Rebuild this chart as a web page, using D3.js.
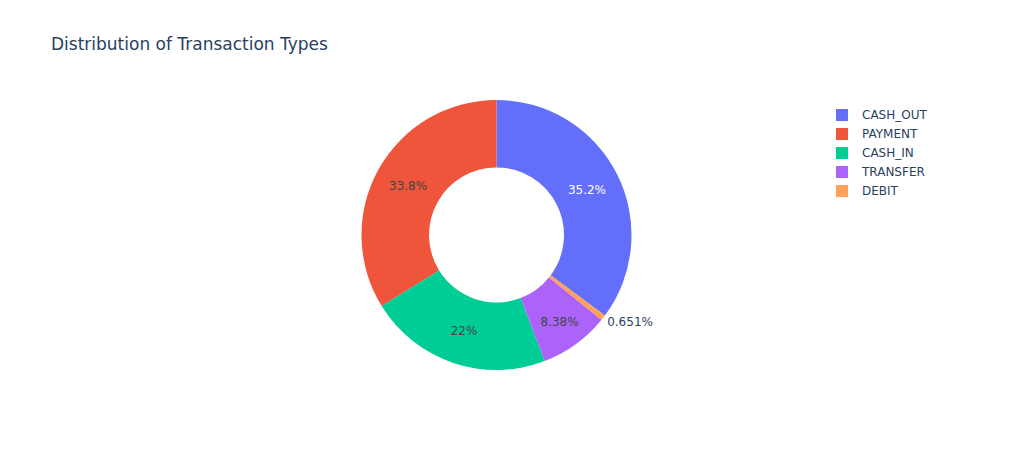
<!DOCTYPE html>
<html>
<head>
<meta charset="utf-8">
<script src="https://cdn.jsdelivr.net/npm/d3@7"></script>
<style>
  html, body { margin: 0; padding: 0; background: #fff; }
  svg { display: block; font-family: "DejaVu Sans", verdana, arial, sans-serif; }
</style>
</head>
<body>
<svg id="chart" width="1016" height="450"></svg>
<script>
// Data (PaySim transaction type counts)
const categories = ["CASH_OUT", "PAYMENT", "CASH_IN", "TRANSFER", "DEBIT"];
const counts = [2237500, 2151495, 1399284, 532909, 41432];
const colors = ["#636efa", "#EF553B", "#00cc96", "#ab63fa", "#FFA15A"];
const textColors = ["#ffffff", "#444444", "#444444", "#444444", "#444444"];
const titleText = "Distribution of Transaction Types";

const W = 1016, H = 450;
const cx = 496.5, cy = 235, outerR = 135, innerR = 67.5;
const svg = d3.select("#chart");

svg.append("text")
  .attr("x", 51).attr("y", 50)
  .attr("fill", "#2a3f5f")
  .attr("font-size", 17)
  .text(titleText);

const total = d3.sum(counts);
const fmt = v => {
  const p = v / total * 100;
  return d3.format(".3~r")(p) + "%";
};

// First slice ends at 12 o'clock; the rest proceed counterclockwise.
const firstAngle = counts[0] / total * 2 * Math.PI;
const pie = d3.pie().sort(null).value(d => d)
  .startAngle(firstAngle).endAngle(firstAngle - 2 * Math.PI);
const arcs = pie(counts);

const arc = d3.arc().innerRadius(innerR).outerRadius(outerR);
const g = svg.append("g").attr("transform", `translate(${cx},${cy})`);

g.selectAll("path.slice").data(arcs).enter().append("path")
  .attr("class", "slice")
  .attr("d", arc)
  .attr("fill", (d, i) => colors[i]);

arcs.forEach((d, i) => {
  const span = Math.abs(d.endAngle - d.startAngle);
  const mid = (d.startAngle + d.endAngle) / 2;
  const label = fmt(counts[i]);
  if (span < 0.1) {
    const r = outerR + 5;
    const x = r * Math.sin(mid), y = -r * Math.cos(mid);
    g.append("text")
      .attr("x", x).attr("y", y + 5)
      .attr("text-anchor", Math.sin(mid) >= 0 ? "start" : "end")
      .attr("fill", "#2a3f5f")
      .attr("font-size", 12)
      .text(label);
  } else {
    let r = (innerR + outerR) / 2;
    if (span < 0.7) r += 6;
    const x = r * Math.sin(mid), y = -r * Math.cos(mid);
    g.append("text")
      .attr("x", x).attr("y", y)
      .attr("dy", "0.35em")
      .attr("text-anchor", "middle")
      .attr("fill", textColors[i])
      .attr("font-size", 12)
      .text(label);
  }
});

// Legend
const legend = svg.append("g").attr("transform", "translate(836,109)");
categories.forEach((c, i) => {
  const row = legend.append("g").attr("transform", `translate(0,${i * 19})`);
  row.append("rect").attr("x", 0).attr("y", 0).attr("width", 12).attr("height", 12)
    .attr("fill", colors[i]);
  row.append("text").attr("x", 26).attr("y", 6).attr("dy", "0.35em")
    .attr("fill", "#2a3f5f").attr("font-size", 12).text(c);
});
</script>
</body>
</html>
